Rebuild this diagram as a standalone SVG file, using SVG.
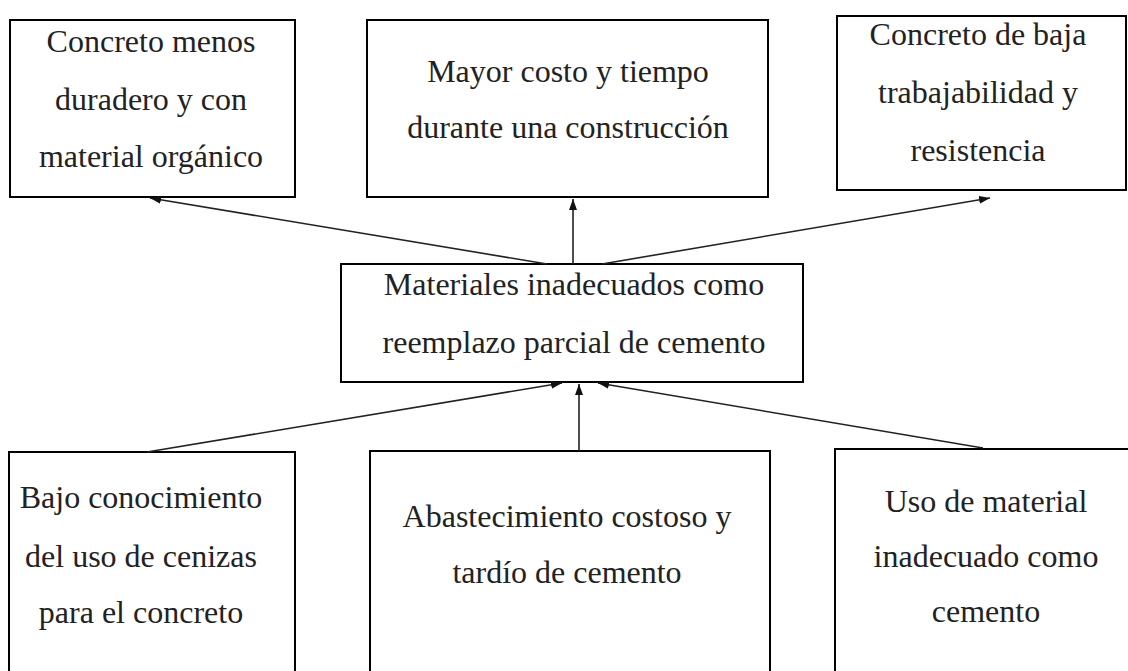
<svg xmlns="http://www.w3.org/2000/svg" width="1128" height="671" viewBox="0 0 1128 671">
<style>
.box{fill:#fff;stroke:#000;stroke-width:2}
.t{font-family:"Liberation Serif","Times New Roman",serif;font-size:32px;fill:#222;text-anchor:middle}
.c{stroke:#222;stroke-width:1.6;fill:none;marker-end:url(#ah)}
</style>
<defs>
<marker id="ah" markerUnits="userSpaceOnUse" markerWidth="12" markerHeight="8" refX="11" refY="4" orient="auto">
<path d="M0,0 L11,4 L0,8 z" fill="#111"/>
</marker>
</defs>
<rect width="1128" height="671" fill="#fff"/>
<g id="n-top-left">
<rect class="box" x="10" y="20" width="285" height="177"/>
<text class="t" x="151" y="52">Concreto menos</text>
<text class="t" x="151" y="110">duradero y con</text>
<text class="t" x="151" y="167">material orgánico</text>
</g>
<g id="n-top-mid">
<rect class="box" x="367" y="20" width="401" height="177"/>
<text class="t" x="568" y="82">Mayor costo y tiempo</text>
<text class="t" x="568" y="138">durante una construcción</text>
</g>
<g id="n-top-right">
<rect class="box" x="837" y="16" width="289" height="174"/>
<text class="t" x="978" y="45">Concreto de baja</text>
<text class="t" x="978" y="103">trabajabilidad y</text>
<text class="t" x="978" y="161">resistencia</text>
</g>
<g id="n-center">
<rect class="box" x="341" y="264" width="462" height="118"/>
<text class="t" x="574" y="295">Materiales inadecuados como</text>
<text class="t" x="574" y="353">reemplazo parcial de cemento</text>
</g>
<g id="n-bot-left">
<rect class="box" x="9" y="452" width="286" height="240"/>
<text class="t" x="141" y="508">Bajo conocimiento</text>
<text class="t" x="141" y="567">del uso de cenizas</text>
<text class="t" x="141" y="623">para el concreto</text>
</g>
<g id="n-bot-mid">
<rect class="box" x="370" y="451" width="400" height="240"/>
<text class="t" x="567" y="527">Abastecimiento costoso y</text>
<text class="t" x="567" y="583">tardío de cemento</text>
</g>
<g id="n-bot-right">
<rect class="box" x="835" y="449" width="300" height="240"/>
<text class="t" x="986" y="512">Uso de material</text>
<text class="t" x="986" y="567">inadecuado como</text>
<text class="t" x="986" y="622">cemento</text>
</g>
<g id="connectors">
<line class="c" x1="547" y1="264" x2="150" y2="198"/>
<line class="c" x1="573" y1="264" x2="573" y2="199"/>
<line class="c" x1="602" y1="264" x2="990" y2="198"/>
<line class="c" x1="147" y1="452" x2="562" y2="383"/>
<line class="c" x1="579" y1="451" x2="579" y2="384"/>
<line class="c" x1="983" y1="448" x2="598" y2="383"/>
</g>
</svg>
